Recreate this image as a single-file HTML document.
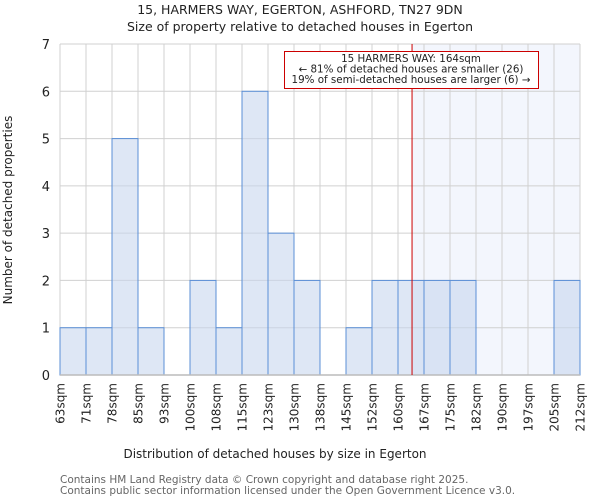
<!DOCTYPE html>
<html><head><meta charset="utf-8"><style>
body{margin:0;background:#fff;}
svg{display:block;font-family:"DejaVu Sans","Liberation Sans",sans-serif;}
</style></head><body>
<svg id="chart" width="600" height="500" viewBox="0 0 600 500">
<text x="300" y="14" text-anchor="middle" font-size="12.5" fill="#222">15, HARMERS WAY, EGERTON, ASHFORD, TN27 9DN</text>
<text x="300" y="31" text-anchor="middle" font-size="12.5" fill="#222">Size of property relative to detached houses in Egerton</text>
<g id="plot"></g>
<text x="275" y="458" text-anchor="middle" font-size="12" fill="#222">Distribution of detached houses by size in Egerton</text>
<text transform="translate(12,210) rotate(-90)" text-anchor="middle" font-size="12" fill="#222">Number of detached properties</text>
<text x="60" y="483" font-size="10.5" fill="#666">Contains HM Land Registry data © Crown copyright and database right 2025.</text>
<text x="60" y="494" font-size="10.5" fill="#666">Contains public sector information licensed under the Open Government Licence v3.0.</text>
</svg>
<script>
const binLabels=["63sqm","71sqm","78sqm","85sqm","93sqm","100sqm","108sqm","115sqm","123sqm","130sqm","138sqm","145sqm","152sqm","160sqm","167sqm","175sqm","182sqm","190sqm","197sqm","205sqm","212sqm"];
const counts=[1,1,5,1,0,2,1,6,3,2,0,1,2,2,2,2,0,0,0,2];
const yTicks=[0,1,2,3,4,5,6,7];
const markerBinPos=13.54;
const NS="http://www.w3.org/2000/svg";
const X0=60,X1=580,Y0=375,Y1=44,YMAX=7;
const bw=(X1-X0)/counts.length;
const xs=i=>X0+i*bw;
const ys=v=>Y0-(v/YMAX)*(Y0-Y1);
const g=document.getElementById('plot');
function mk(t,a){const e=document.createElementNS(NS,t);for(const k in a)e.setAttribute(k,a[k]);g.appendChild(e);return e;}
const mx=xs(markerBinPos);
let e=mk('rect',{x:mx,y:Y1,width:X1-mx,height:Y0-Y1,fill:'#f3f6fd'});


yTicks.forEach(v=>{
 let l=mk('line',{x1:X0,x2:X1,y1:ys(v),y2:ys(v),stroke:'#d0d0d0','stroke-width':1});
 
 
 let t=mk('text',{x:X0-10,y:ys(v)+5,'text-anchor':'end','font-size':13,fill:'#222'});
 t.textContent=v;
 
 
});
binLabels.forEach((s,i)=>{
 let l=mk('line',{x1:xs(i),x2:xs(i),y1:Y1,y2:Y0,stroke:'#d0d0d0','stroke-width':1});
 
 
 let t=mk('text',{transform:`translate(${xs(i)+4.5},383) rotate(-90)`,'text-anchor':'end','font-size':12,fill:'#222'});
 t.textContent=s;
 
 
});
counts.forEach((c,i)=>{
 if(!c)return;
 let r=mk('rect',{x:xs(i),y:ys(c),width:bw,height:Y0-ys(c),fill:'rgba(200,215,238,0.6)',stroke:'#5b8fd6','stroke-width':1});
 
 
});
let ax=mk('line',{x1:X0,x2:X1,y1:Y0,y2:Y0,stroke:'#bbb','stroke-width':1.5});


let ml=mk('line',{x1:mx,x2:mx,y1:Y1,y2:Y0,stroke:'#cc0000','stroke-width':1});


let box=mk('rect',{x:284.5,y:51.5,width:254,height:37,fill:'#fff',stroke:'#cc0000','stroke-width':1});


["15 HARMERS WAY: 164sqm","← 81% of detached houses are smaller (26)","19% of semi-detached houses are larger (6) →"].forEach((s,i)=>{
 let t=mk('text',{x:411,y:62+i*10.5,'text-anchor':'middle','font-size':10.3,fill:'#222'});
 t.textContent=s;
 
 
});
</script>
</body></html>
